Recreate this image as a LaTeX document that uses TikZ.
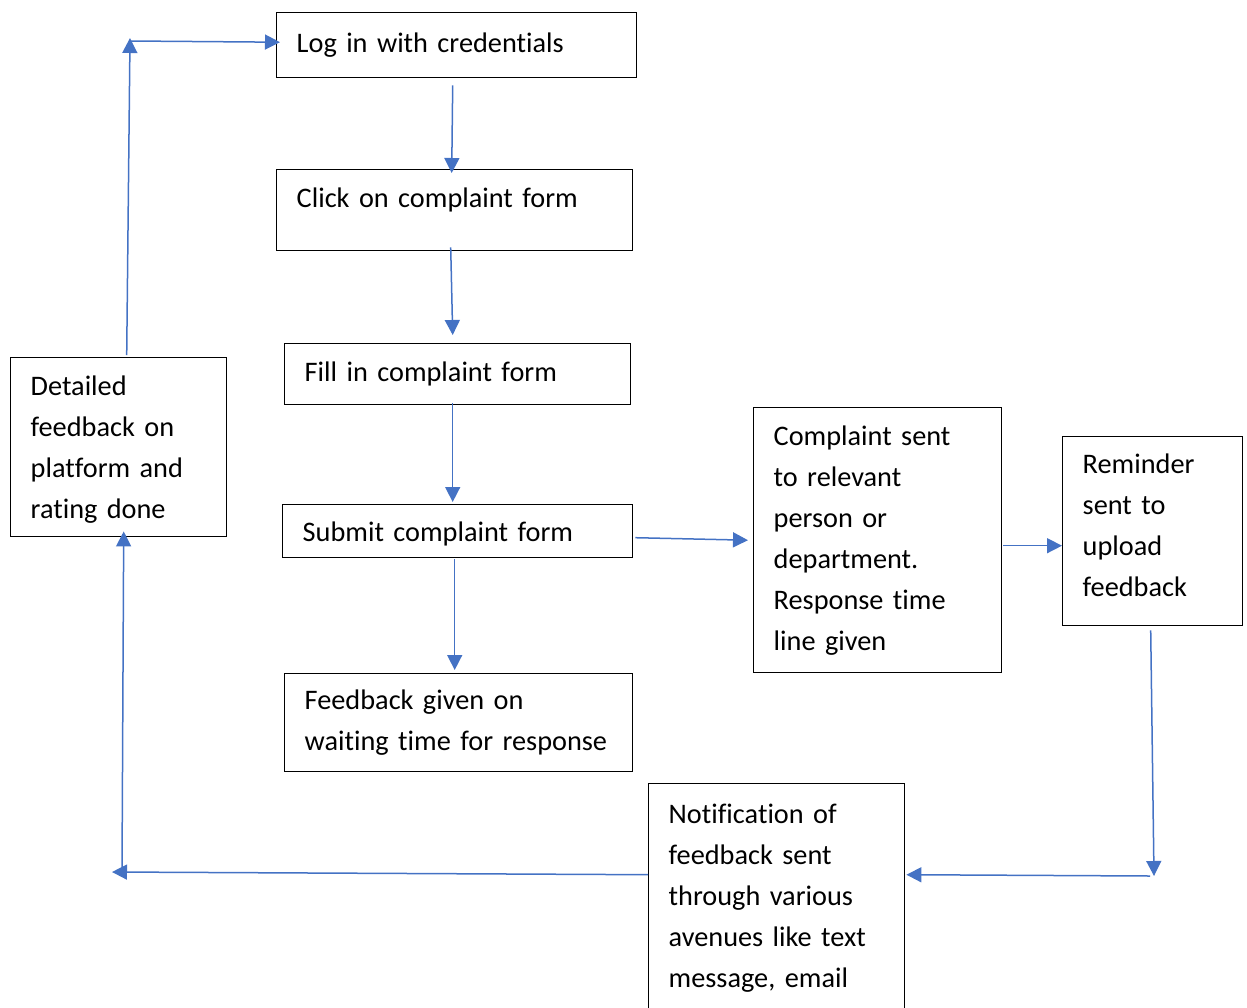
\documentclass[tikz,border=0pt]{standalone}
\usepackage{fontspec}
\setmainfont{Carlito}[Ligatures=NoCommon]
\usetikzlibrary{arrows.meta}

\definecolor{flowblue}{HTML}{4472C4}

\tikzset{
    box/.style={draw, line width=0.7pt, anchor=north west, align=left,
        inner xsep=10pt, font=\fontsize{14.15}{20.5}\selectfont,
        execute at begin node={\hyphenpenalty=10000\relax}},
    flow/.style={draw=flowblue, line width=0.75pt,
        -{Triangle[length=7.5pt,width=7.5pt]}, flowblue}
}

\begin{document}
\begin{tikzpicture}[x=0.5pt,y=-0.5pt]
    \useasboundingbox (0,0) rectangle (1247,1007);

    % boxes
    \node[box, text width=160pt, minimum height=32.5pt] (login) at (276,12) {Log in with credentials};
    \node[box, text width=158pt, inner ysep=0pt, text height=19pt, text depth=21.5pt] (click) at (276,169) {Click on complaint form};
    \node[box, text width=153pt, minimum height=30.5pt] (fill) at (284,343) {Fill in complaint form};
    \node[box, text width=155pt, minimum height=26.5pt, text depth=0pt] (submit) at (282,504) {Submit complaint form};
    \node[box, text width=154pt, minimum height=49pt] (waiting) at (284,673) {Feedback given on\\waiting time for response};
    \node[box, text width=104pt, minimum height=132.5pt] (sent) at (753,407) {Complaint sent\\to relevant\\person or\\department.\\Response time\\line given};
    \node[box, text width=70pt, minimum height=94.5pt] (remind) at (1062,436) {Reminder\\sent to\\upload\\feedback\strut};
    \node[box, text width=108pt, minimum height=114pt] (notify) at (648,783) {Notification of\\feedback sent\\through various\\avenues like text\\message, email};
    \node[box, text width=88pt, minimum height=89.5pt] (rated) at (10,357) {Detailed\\feedback on\\platform and\\\raisebox{0pt}[\height][0pt]{rating done}};

    % bends
    \coordinate (turn) at (1152,876);
    \coordinate (corner) at (122,872);
    \coordinate (top) at (130,41);

    % arrows
    \draw[flow] ([xshift=-2pt,yshift=-3.5pt]login.south) -- ([xshift=-1.5pt,yshift=-2pt]click.north);
    \draw[flow] ([xshift=-2pt,yshift=2pt]click.south) -- ([xshift=-2.5pt,yshift=4pt]fill.north);
    \draw[flow] ([xshift=-2.5pt,yshift=1pt]fill.south) -- ([xshift=-2.5pt,yshift=1pt]submit.north);
    \draw[flow] ([xshift=-1.5pt,yshift=-0.5pt]submit.south) -- ([xshift=-2pt,yshift=1.5pt]waiting.north);
    \draw[flow] ([xshift=1pt,yshift=-3.25pt]submit.east) -- ([xshift=-2.5pt]sent.west);
    \draw[flow] ([xshift=0.5pt,yshift=-2.75pt]sent.east) -- ([yshift=-7.25pt]remind.west);
    \draw[flow] ([xshift=-1pt,yshift=-2pt]remind.south) -- ([xshift=1pt]turn);
    \draw[flow] ([xshift=-1pt]turn) -- ([xshift=0.5pt,yshift=11.5pt]notify.east);
    \draw[flow] ([yshift=11.5pt]notify.west) -- ([xshift=-5pt]corner);
    \draw[flow] (corner) -- ([xshift=2.5pt,yshift=3pt]rated.south);
    \draw[flow] ([xshift=4pt,yshift=1pt]rated.north) -- ([yshift=1.5pt]top);
    \draw[flow] (top) -- ([xshift=2pt,yshift=1.5pt]login.west);
\end{tikzpicture}
\end{document}
